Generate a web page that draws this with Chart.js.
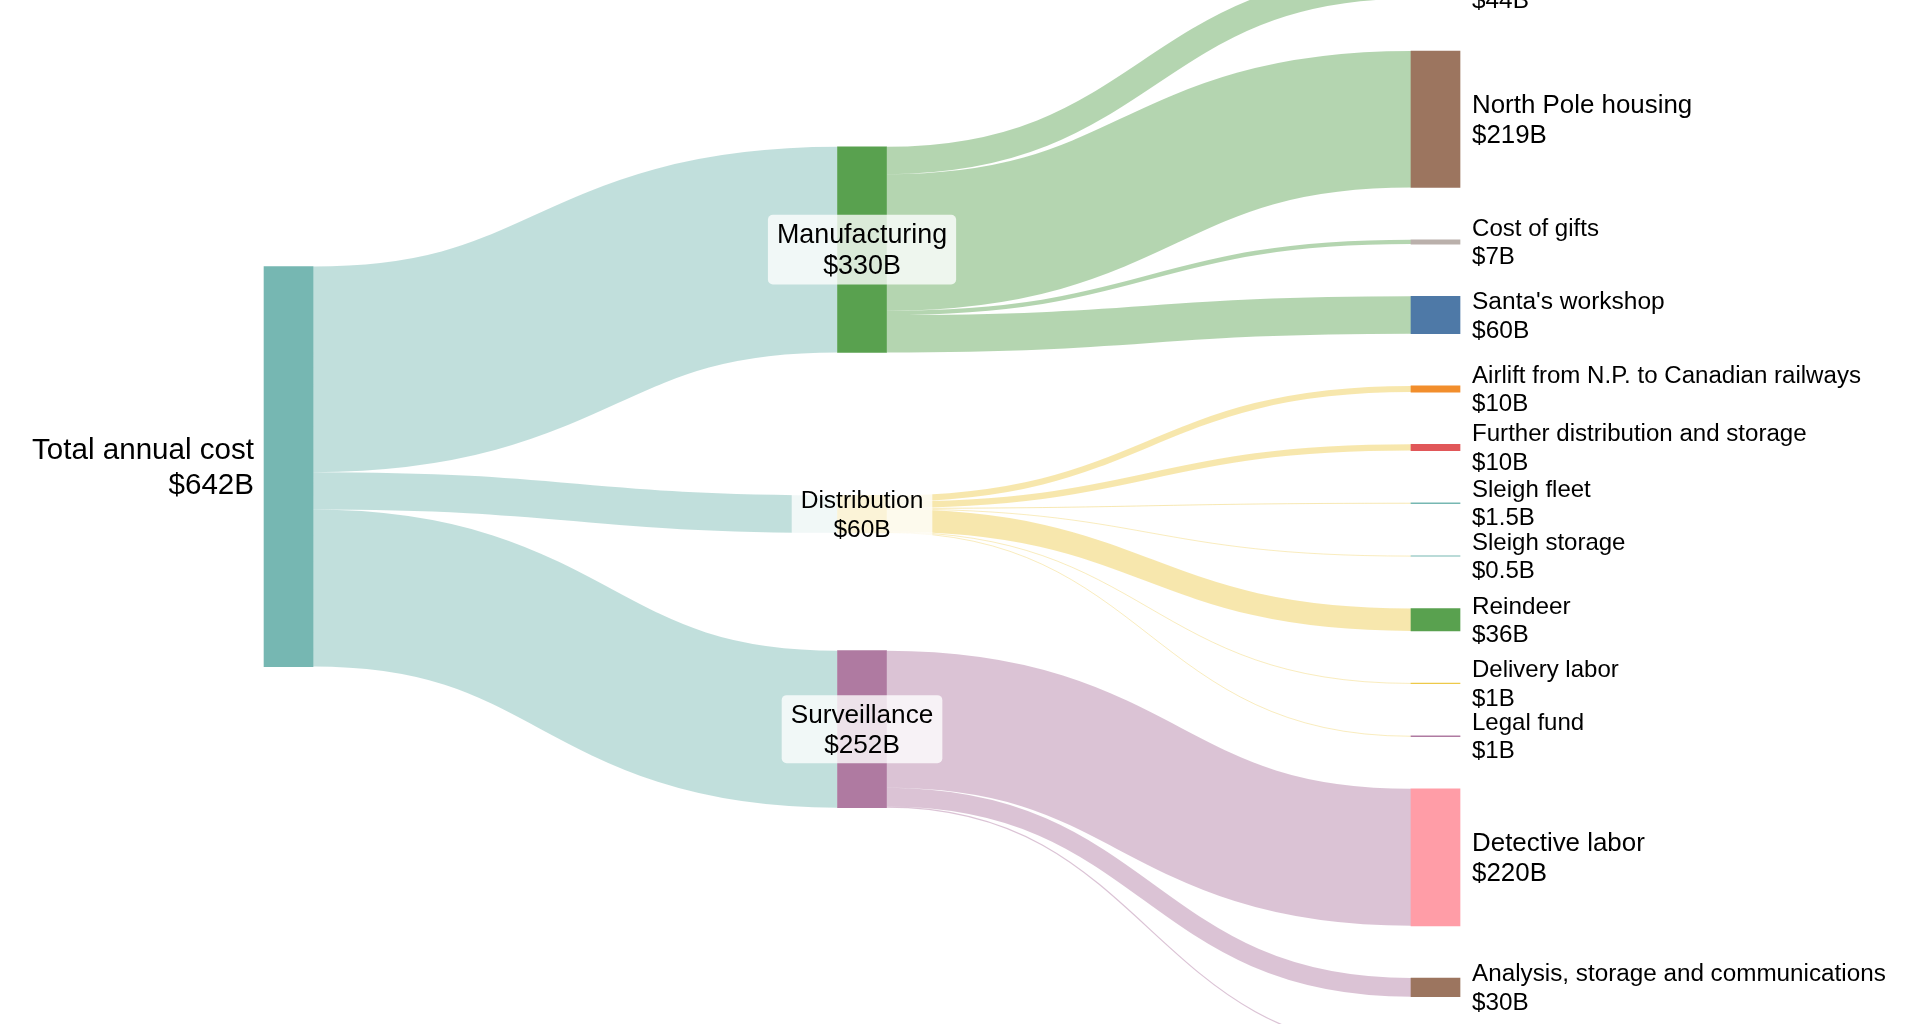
<!DOCTYPE html>
<html>
<head>
<meta charset="utf-8">
<title>Santa's annual costs</title>
<script src="https://cdn.jsdelivr.net/npm/chart.js@4.4.1/dist/chart.umd.min.js"></script>
<style>
  html, body { margin: 0; padding: 0; background: #fff; }
  #wrap { width: 1920px; height: 1024px; position: relative; }
</style>
</head>
<body>
<div id="wrap"><canvas id="sankey"></canvas></div>
<script>
// DATA

const nodeNames = [
  "Total annual cost",
  "Manufacturing",
  "Distribution",
  "Surveillance",
  "Elf labor",
  "North Pole housing",
  "Cost of gifts",
  "Santa's workshop",
  "Airlift from N.P. to Canadian railways",
  "Further distribution and storage",
  "Sleigh fleet",
  "Sleigh storage",
  "Reindeer",
  "Delivery labor",
  "Legal fund",
  "Detective labor",
  "Analysis, storage and communications",
  "Surveillance equipment"
];

const linkSources = [0, 0, 0, 1, 1, 1, 1, 2, 2, 2, 2, 2, 2, 2, 3, 3, 3];
const linkTargets = [1, 2, 3, 4, 5, 6, 7, 8, 9, 10, 11, 12, 13, 14, 15, 16, 17];
const linkValues = [330, 60, 252, 44, 219, 7, 60, 10, 10, 1.5, 0.5, 36, 1, 1, 220, 30, 2];

// STYLE

const nodeColors = [
  "#76b7b2", "#59a14f", "#edc949", "#af7aa1",
  "#ff9da7", "#9c755f", "#bab0ab", "#4e79a7",
  "#f28e2c", "#e15759", "#76b7b2", "#76b7b2",
  "#59a14f", "#edc949", "#af7aa1", "#ff9da7",
  "#9c755f", "#af7aa1"
];

const NODE_WIDTH = 49;
const NODE_PADDING = 83.8;     // in value units
const LAYOUT_HEIGHT = 1731.4;  // in value units
const LEFT_PULL = 0.62;        // how far inner nodes follow their sources
const LINK_OPACITY = 0.45;
const MIN_LINK_PX = 0.8;
const FONT = "'Liberation Sans', Arial, Helvetica, sans-serif";

// SANKEY LAYOUT (value units)

function total(arr) {
  return arr.reduce((s, l) => s + l.value, 0);
}

function buildSankey() {
  const nodes = nodeNames.map((name, i) => ({ index: i, name, sourceLinks: [], targetLinks: [] }));
  const links = linkValues.map((value, i) => ({
    index: i, value, width: value,
    source: nodes[linkSources[i]],
    target: nodes[linkTargets[i]]
  }));
  links.forEach(l => { l.source.sourceLinks.push(l); l.target.targetLinks.push(l); });
  nodes.forEach(n => { n.value = Math.max(total(n.sourceLinks), total(n.targetLinks)); });

  // depths
  let current = new Set(nodes), next = new Set(), depth = 0;
  while (current.size) {
    for (const n of current) {
      n.depth = depth;
      for (const l of n.sourceLinks) next.add(l.target);
    }
    depth++;
    current = next;
    next = new Set();
  }

  // sinks go to the last column
  const columns = [];
  for (let i = 0; i < depth; i++) columns.push([]);
  nodes.forEach(n => {
    n.layer = n.sourceLinks.length ? n.depth : depth - 1;
    columns[n.layer].push(n);
  });

  const py = NODE_PADDING;
  const byY = (a, b) => a.y0 - b.y0;
  const bySource = (a, b) => byY(a.source, b.source) || a.index - b.index;
  const byTarget = (a, b) => byY(a.target, b.target) || a.index - b.index;
  const sortLinks = () => nodes.forEach(n => { n.sourceLinks.sort(byTarget); n.targetLinks.sort(bySource); });

  // stack every column, spreading the spare room evenly
  for (const col of columns) {
    let y = 0;
    for (const n of col) { n.y0 = y; n.y1 = y + n.value; y = n.y1 + py; }
    const extra = (LAYOUT_HEIGHT - y + py) / (col.length + 1);
    col.forEach((n, i) => { n.y0 += extra * (i + 1); n.y1 += extra * (i + 1); });
  }
  sortLinks();

  function targetTop(source, target) {
    let y = source.y0 - (source.sourceLinks.length - 1) * py / 2;
    for (const l of source.sourceLinks) { if (l.target === target) break; y += l.width + py; }
    for (const l of target.targetLinks) { if (l.source === source) break; y -= l.width; }
    return y;
  }
  function sourceTop(source, target) {
    let y = target.y0 - (target.targetLinks.length - 1) * py / 2;
    for (const l of target.targetLinks) { if (l.source === source) break; y += l.width + py; }
    for (const l of source.sourceLinks) { if (l.target === target) break; y -= l.width; }
    return y;
  }
  function moveTo(n, y) {
    n.y1 += y - n.y0;
    n.y0 = y;
  }
  function resolveCollisions(col) {
    let y = 0;
    for (const n of col) { if (n.y0 < y) moveTo(n, y); y = n.y1 + py; }
    y = LAYOUT_HEIGHT;
    for (let i = col.length - 1; i >= 0; i--) {
      const n = col[i];
      if (n.y1 > y) moveTo(n, y - n.value);
      y = n.y0 - py;
    }
  }

  // right to left: each node sits where its outgoing links want it
  for (let i = columns.length - 2; i >= 0; i--) {
    for (const n of columns[i]) {
      let y = 0, w = 0;
      for (const l of n.sourceLinks) { y += sourceTop(n, l.target) * l.value; w += l.value; }
      if (w > 0) moveTo(n, y / w);
    }
    resolveCollisions(columns[i]);
    sortLinks();
  }

  // left to right: inner nodes lean part of the way toward their sources
  for (let i = 1; i < columns.length - 1; i++) {
    const wanted = columns[i].map(n => {
      let y = 0, w = 0;
      for (const l of n.targetLinks) { y += targetTop(l.source, n) * l.value; w += l.value; }
      return w > 0 ? y / w : n.y0;
    });
    columns[i].forEach((n, k) => moveTo(n, n.y0 + (wanted[k] - n.y0) * LEFT_PULL));
    resolveCollisions(columns[i]);
    sortLinks();
  }

  // link breadths
  for (const n of nodes) {
    let a = n.y0, b = n.y0;
    for (const l of n.sourceLinks) { l.y0 = a + l.width / 2; a += l.width; }
    for (const l of n.targetLinks) { l.y1 = b + l.width / 2; b += l.width; }
  }

  return { nodes, links, lastLayer: depth - 1 };
}

const graph = buildSankey();

// HELPERS

function rgba(hex, a) {
  const v = parseInt(hex.slice(1), 16);
  return `rgba(${(v >> 16) & 255}, ${(v >> 8) & 255}, ${v & 255}, ${a})`;
}

function fmtValue(v) {
  return "$" + v + "B";
}

function fontSize(v) {
  return 24 + 0.0087 * v;
}

// PLUGINS

const linkPlugin = {
  id: "sankeyLinks",
  beforeDatasetsDraw(chart) {
    const { ctx } = chart;
    const xs = chart.scales.x, ys = chart.scales.y;
    ctx.save();
    ctx.lineCap = "butt";
    graph.links.forEach(l => {
      const sx = xs.getPixelForValue(l.source.layer) + NODE_WIDTH / 2;
      const tx = xs.getPixelForValue(l.target.layer) - NODE_WIDTH / 2;
      const sy = ys.getPixelForValue(l.y0);
      const ty = ys.getPixelForValue(l.y1);
      const w = Math.abs(ys.getPixelForValue(l.width) - ys.getPixelForValue(0));
      const mx = (sx + tx) / 2;
      ctx.beginPath();
      ctx.moveTo(sx, sy);
      ctx.bezierCurveTo(mx, sy, mx, ty, tx, ty);
      ctx.lineWidth = Math.max(MIN_LINK_PX, w);
      ctx.strokeStyle = rgba(nodeColors[l.source.index], LINK_OPACITY);
      ctx.stroke();
    });
    ctx.restore();
  }
};

const labelPlugin = {
  id: "sankeyLabels",
  afterDatasetsDraw(chart) {
    const { ctx } = chart;
    const xs = chart.scales.x, ys = chart.scales.y;
    ctx.save();
    ctx.textBaseline = "alphabetic";
    graph.nodes.forEach(n => {
      const fs = fontSize(n.value);
      const cx = xs.getPixelForValue(n.layer);
      const cy = (ys.getPixelForValue(n.y0) + ys.getPixelForValue(n.y1)) / 2;
      const nameY = cy - 0.25 * fs;
      const valueY = nameY + 1.17 * fs;
      const valueText = fmtValue(n.value);
      ctx.font = `${fs}px ${FONT}`;
      ctx.fillStyle = "#000";

      if (n.layer === 0) {
        ctx.textAlign = "right";
        const x = cx - NODE_WIDTH / 2 - 10;
        ctx.fillText(n.name, x, nameY);
        ctx.fillText(valueText, x, valueY);
      } else if (n.layer === graph.lastLayer) {
        ctx.textAlign = "left";
        const x = cx + NODE_WIDTH / 2 + 12;
        ctx.fillText(n.name, x, nameY);
        ctx.fillText(valueText, x, valueY);
      } else {
        const bw = Math.max(ctx.measureText(n.name).width, ctx.measureText(valueText).width) + 18;
        const bh = 2.6 * fs;
        ctx.fillStyle = "rgba(255, 255, 255, 0.78)";
        ctx.beginPath();
        ctx.roundRect(cx - bw / 2, cy - bh / 2, bw, bh, 5);
        ctx.fill();
        ctx.fillStyle = "#000";
        ctx.textAlign = "center";
        ctx.fillText(n.name, cx, nameY);
        ctx.fillText(valueText, cx, valueY);
      }
    });
    ctx.restore();
  }
};

// CHART

const ctx = document.getElementById("sankey").getContext("2d");

new Chart(ctx, {
  type: "bar",
  data: {
    datasets: [{
      label: "Nodes",
      data: graph.nodes.map(n => ({ x: n.layer, y: [n.y0, n.y1] })),
      backgroundColor: graph.nodes.map(n => nodeColors[n.index]),
      borderWidth: 0,
      barThickness: NODE_WIDTH,
      clip: false
    }]
  },
  options: {
    responsive: true,
    maintainAspectRatio: false,
    animation: false,
    events: [],
    layout: { padding: 0 },
    plugins: {
      legend: { display: false },
      tooltip: { enabled: false }
    },
    scales: {
      x: { type: "linear", display: false, offset: false, min: -0.5031, max: 2.8448 },
      y: { type: "linear", display: false, reverse: true, min: 45.9, max: 1689.3 }
    }
  },
  plugins: [linkPlugin, labelPlugin]
});
</script>
</body>
</html>
